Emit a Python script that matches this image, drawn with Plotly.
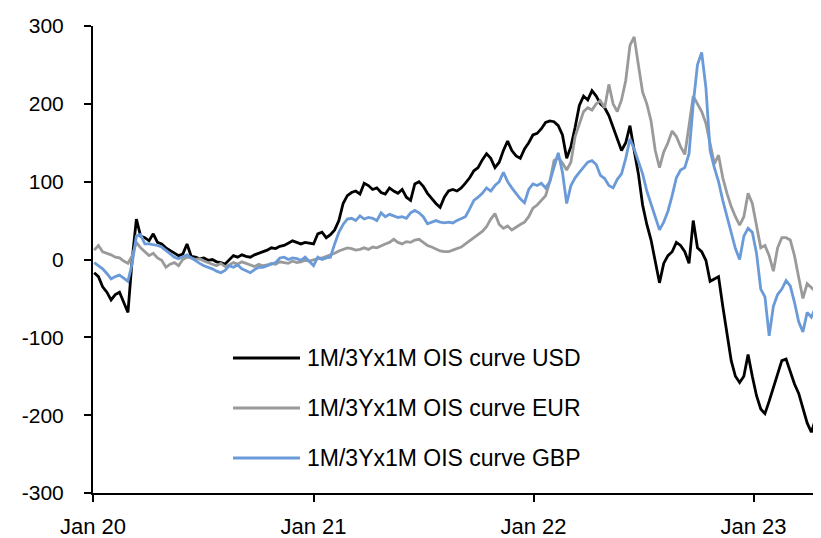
import pandas as pd
import plotly.graph_objects as go

# weekly observation dates (Fridays)
dates = pd.date_range("2020-01-03", periods=173, freq="7D")

usd = [-17, -22, -35, -42, -52, -45, -42, -55, -68, 0, 52,
       30, 28, 24, 33, 22, 20, 15, 12, 8,
       5, 7, 20, 4, 3, 1, 2, -1, 0, -3,
       -4, -6, 0, 5, 3, 6, 4, 3, 6, 8,
       9, 12, 15, 14, 17, 18, 21, 24, 22, 20,
       22, 21, 20, 33, 35, 28, 32, 38, 50, 72,
       82, 86, 88, 84, 98, 95, 90, 92, 86, 84,
       92, 88, 85, 90, 80, 76, 97, 100, 94, 85,
       78, 72, 67, 80, 88, 90, 88, 92, 98, 105,
       114, 118, 128, 136, 130, 118, 125, 140, 152, 140,
       133, 130, 142, 150, 160, 162, 168, 176, 178, 177,
       172, 160, 130, 145, 170, 198, 210, 205, 217, 210,
       200, 195, 185, 169, 155, 140, 150, 172, 140, 110,
       70, 45, 25, -5, -30, -5, 5, 10, 22, 18,
       10, -5, 50, 15, 10, -1, -28, -25, -22, -60,
       -95, -130, -150, -158, -150, -122, -150, -175, -192, -198,
       -182, -165, -150, -130, -128, -145, -160, -172, -192, -210,
       -222, -205, -232]

eur = [12, 18, 10, 8, 6, 3, 2, -2, -5, 5, 22,
       15, 10, 5, 8, 2, -1, -10, -6, -4,
       -8, 0, 3, 2, 0, 1, -2, -4, -6, -8,
       -5, -9, -7, -4, -6, -3, -5, -7, -9, -6,
       -8, -7, -5, -6, -3, -4, -5, -2, -4, -3,
       -1, -2, 0, 1, 2, 4, 6, 8, 11, 13,
       15, 14, 12, 13, 15, 13, 16, 15, 18, 20,
       22, 26, 22, 20, 23, 22, 25, 26, 22, 18,
       16, 13, 11, 10, 10, 12, 14, 16, 20, 24,
       28, 32, 36, 42, 52, 59, 45, 40, 43, 38,
       42, 45, 48, 55, 66, 70, 76, 82, 100, 127,
       131, 124, 115, 125, 158, 175, 190, 195, 192, 200,
       204, 195, 225, 200, 190, 205, 230, 275, 286, 250,
       215, 200, 178, 140, 118, 138, 150, 165, 158, 145,
       135, 172, 210, 200, 190, 175, 150, 123, 134, 105,
       85, 68, 55, 44, 55, 85, 72, 45, 15, 18,
       5, -15, 15, 28, 28, 25, 5, -23, -50, -31,
       -36, -40, -46]

gbp = [-4, -8, -12, -18, -25, -22, -20, -24, -28, -5, 30,
       32, 20, 20, 19, 18, 16, 12, 8, 3,
       1, 4, 6, 2, -2, -5, -8, -10, -12, -15,
       -17, -14, -8, -10, -7, -12, -14, -17, -13, -10,
       -10, -8, -6, -4, 2, 3, 0, 2, 1, -1,
       3, -2, -8, 3, 0, 2, 3, 20, 35, 45,
       52, 53, 50, 56, 52, 54, 53, 50, 60, 55,
       58, 56, 54, 55, 53, 60, 63, 60, 55, 46,
       48, 50, 48, 47, 48, 47, 50, 52, 55, 65,
       76, 80, 85, 92, 88, 95, 100, 112, 100, 92,
       85, 78, 73, 90, 97, 95, 98, 92, 100, 118,
       137, 112, 72, 95, 105, 112, 118, 125, 127, 122,
       108, 104, 95, 92, 103, 110, 130, 155, 142, 125,
       110, 88, 72, 55, 38, 48, 62, 82, 105, 115,
       118, 136, 200, 250, 266, 221, 140, 118, 100, 76,
       55, 35, 14, 0, 30, 40, 35, 8, -38, -48,
       -98, -60, -45, -38, -27, -34, -55, -80, -93, -68,
       -74, -62, -72]

series_names = ["1M/3Yx1M OIS curve USD", "1M/3Yx1M OIS curve EUR", "1M/3Yx1M OIS curve GBP"]
series_colors = ["#000000", "#9a9a9a", "#6a9bd8"]
series_values = [usd, eur, gbp]

y_ticks = [-300, -200, -100, 0, 100, 200, 300]
y_ticktext = ["-300", "-200", "-100", "0", "100", "200", "300"]
x_tickvals = ["2020-01-01", "2021-01-01", "2022-01-01", "2023-01-01"]
x_ticktext = ["Jan 20", "Jan 21", "Jan 22", "Jan 23"]

FONT = "Liberation Sans, Arial, sans-serif"
PAGE_OFF = 8                      # default body margin of the html page
W, H = 821 - PAGE_OFF, 538 - PAGE_OFF
ML, MR, MT, MB = 93 - PAGE_OFF, 0, 26 - PAGE_OFF, 45

fig = go.Figure()
for name, col, vals in zip(series_names, series_colors, series_values):
    fig.add_trace(go.Scatter(x=dates, y=vals, mode="lines", name=name,
                             line=dict(color=col, width=2.8), showlegend=False))

# custom legend (long line samples, wide row spacing); positions in page pixels
pw, ph = W - ML - MR, H - MT - MB
def px_x(px):
    return (px - PAGE_OFF - ML) / pw
def px_y(py):
    return (H - MB - (py - PAGE_OFF)) / ph

legend_rows = [358, 408, 458]
for name, col, ry in zip(series_names, series_colors, legend_rows):
    fig.add_shape(type="line", xref="paper", yref="paper",
                  x0=px_x(233), x1=px_x(300), y0=px_y(ry), y1=px_y(ry),
                  line=dict(color=col, width=2.8))
    fig.add_annotation(xref="paper", yref="paper", x=px_x(305), y=px_y(ry),
                       text=name, showarrow=False, xanchor="left", yanchor="middle",
                       font=dict(family=FONT, size=23, color="#000000"))

axis_common = dict(showline=True, linecolor="black", linewidth=2, ticks="outside",
                   ticklen=7, tickwidth=2, tickcolor="black", showgrid=False,
                   zeroline=False, automargin=False)

fig.update_layout(
    width=W, height=H,
    margin=dict(l=ML, r=MR, t=MT, b=MB),
    plot_bgcolor="white", paper_bgcolor="white",
    font=dict(family=FONT, size=22, color="black"),
    xaxis=dict(type="date", range=["2020-01-01", "2023-04-23"],
               tickvals=x_tickvals, ticktext=x_ticktext, ticklabelstandoff=6,
               tickfont=dict(family=FONT, size=22, color="black"), **axis_common),
    yaxis=dict(range=[-300, 300], tickvals=y_ticks, ticktext=y_ticktext,
               ticklabelstandoff=16,
               tickfont=dict(family=FONT, size=21, color="black"), **axis_common),
)

fig.write_html("out.html")
